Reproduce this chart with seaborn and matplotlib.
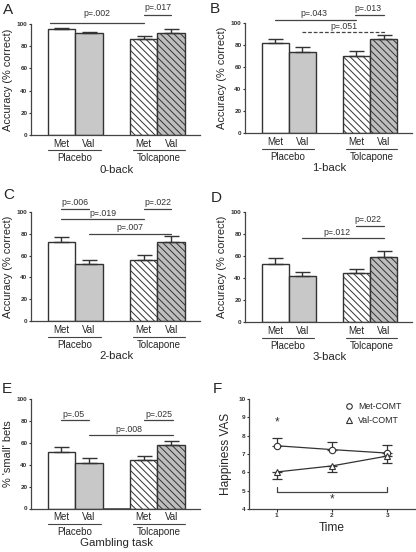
import numpy as np
import pandas as pd
import matplotlib
matplotlib.use("Agg")
import matplotlib.pyplot as plt
import seaborn as sns
from matplotlib import transforms
from matplotlib.lines import Line2D

# ---------------- data ----------------
gene_labels = ["Met", "Val", "Met", "Val"]
group_labels = ["Placebo", "Tolcapone"]
cond_keys = ["PM", "PV", "TM", "TV"]

acc_0back = [95.5, 92.1, 86.4, 92.4]
err_0back = [1.0, 1.2, 3.0, 3.0]
acc_1back = [82.4, 73.6, 70.6, 85.8]
err_1back = [3.4, 4.5, 4.5, 3.3]
acc_2back = [72.0, 52.3, 55.6, 72.0]
err_2back = [4.6, 3.3, 4.9, 5.8]
acc_3back = [52.7, 42.2, 44.3, 59.3]
err_3back = [5.1, 3.6, 4.2, 5.4]
small_bets = [51.1, 41.4, 43.8, 57.4]
err_small = [4.5, 4.2, 4.2, 4.2]

time_points = [1, 2, 3]
happy_met = [7.45, 7.24, 7.05]
err_met = [0.40, 0.40, 0.45]
happy_val = [6.02, 6.35, 6.89]
err_val = [0.40, 0.35, 0.36]

# significance annotations: (x0, x1, y_line, label, x_text, y_text, dashed)
annot_A = [(-0.4, 3.0, 101.4, "p=.002", 1.28, 109.5, False),
           (3.0, 4.0, 108.7, "p=.017", 3.53, 115.5, False)]
annot_B = [(0.0, 3.0, 103.0, "p=.043", 1.44, 108.8, False),
           (2.95, 4.0, 107.5, "p=.013", 3.44, 113.3, False),
           (1.0, 4.1, 91.8, "p=.051", 2.55, 97.2, True)]
annot_C = [(0.0, 1.0, 102.5, "p=.006", 0.5, 108.4, False),
           (3.0, 4.0, 102.5, "p=.022", 3.5, 108.4, False),
           (0.0, 3.0, 93.3, "p=.019", 1.53, 98.6, False),
           (1.0, 4.0, 80.0, "p=.007", 2.5, 85.6, False)]
annot_D = [(3.0, 4.0, 87.1, "p=.022", 3.43, 92.8, False),
           (1.0, 4.0, 76.0, "p=.012", 2.27, 81.4, False)]
annot_E = [(0.0, 1.0, 80.5, "p=.05", 0.45, 86.0, False),
           (3.0, 4.05, 80.5, "p=.025", 3.56, 86.0, False),
           (1.0, 4.05, 66.7, "p=.008", 2.47, 72.2, False)]

# ---------------- style ----------------
sns.set_style("ticks")
plt.rcParams["font.family"] = ["Liberation Sans", "DejaVu Sans"]
plt.rcParams["hatch.linewidth"] = 0.7
plt.rcParams["hatch.color"] = "#333333"
EDGE = "#333333"
LINE = "#444444"
W, H = 416, 552

fig = plt.figure(figsize=(W / 100, H / 100), dpi=100)


def add_ax(L, R, T, B):
    return fig.add_axes([L / W, 1 - B / H, (R - L) / W, (B - T) / H])


def below(ax, dy):
    return transforms.offset_copy(ax.get_xaxis_transform(), fig=fig, x=0, y=-dy, units="dots")


face = {0: "#ffffff", 1: "#c8c8c8", 3: "#ffffff", 4: "#bebebe"}


def bar_panel(ax, values, errors, ylabel, task, annots, gap_bar=False):
    order = ["PM", "PV", "gap", "TM", "TV"]
    df = pd.DataFrame({"cond": cond_keys, "value": values})
    if gap_bar:
        df = pd.concat([df, pd.DataFrame({"cond": ["gap"], "value": [0.0]})], ignore_index=True)
    sns.barplot(data=df, x="cond", y="value", order=order, color="white", width=1.0,
                errorbar=None, edgecolor=EDGE, linewidth=1.0, ax=ax)
    for p in ax.patches:
        c = int(round(p.get_x() + p.get_width() / 2))
        if c == 2:
            p.set_linewidth(1.8)
            continue
        p.set_facecolor(face[c])
        if c >= 3:
            p.set_hatch("\\" * 5)
    ax.errorbar([0, 1, 3, 4], values, yerr=[np.zeros(4), errors], fmt="none",
                ecolor=EDGE, elinewidth=1.0, capsize=5.4, capthick=1.0, zorder=3)
    ax.set_xlim(-1.11, 5.05)
    ax.set_ylim(0, 100)
    ax.set_yticks(range(0, 101, 20), labels=[str(v) for v in range(0, 101, 20)],
                  fontweight="bold", fontsize=4.6)
    ax.set_xticks([])
    ax.set_xlabel("")
    ax.set_ylabel(ylabel, fontsize=7.9, labelpad=2.5)
    ax.tick_params(axis="y", direction="out", length=1.8, width=0.8, pad=0.8, colors=EDGE)
    sns.despine(ax=ax)
    for s in ("left", "bottom"):
        ax.spines[s].set_color(LINE)
        ax.spines[s].set_linewidth(0.9)
    for x, lbl in zip([0, 1, 3, 4], gene_labels):
        ax.text(x, 0, lbl, transform=below(ax, 9), ha="center", va="center", fontsize=7)
    for (x0, x1), g in zip([(-0.5, 1.45), (2.6, 4.5)], group_labels):
        ax.plot([x0, x1], [0, 0], transform=below(ax, 15.5), color=LINE, lw=0.8, clip_on=False)
        ax.text((x0 + x1) / 2, 0, g, transform=below(ax, 23.5), ha="center", va="center", fontsize=7)
    ax.text(2, 0, task, transform=below(ax, 35), ha="center", va="center", fontsize=8.2)
    for x0, x1, yl, txt, xt, yt, dashed in annots:
        ax.plot([x0, x1], [yl, yl], color=LINE, lw=0.9, ls=(0, (3, 1.5)) if dashed else "-",
                clip_on=False)
        ax.text(xt, yt, txt, ha="center", va="center", fontsize=6.3, color=EDGE, clip_on=False)


axA = add_ax(31, 200, 24.3, 134.7)
axB = add_ax(245, 412, 23.3, 133.3)
axC = add_ax(31, 200, 211.7, 321.3)
axD = add_ax(245, 412, 211.7, 322.3)
axE = add_ax(31, 200, 398.7, 508.5)
axF = add_ax(249, 415, 399, 509)

bar_panel(axA, acc_0back, err_0back, "Accuracy (% correct)", "0-back", annot_A)
bar_panel(axB, acc_1back, err_1back, "Accuracy (% correct)", "1-back", annot_B)
bar_panel(axC, acc_2back, err_2back, "Accuracy (% correct)", "2-back", annot_C)
bar_panel(axD, acc_3back, err_3back, "Accuracy (% correct)", "3-back", annot_D)
bar_panel(axE, small_bets, err_small, "% 'small' bets", "Gambling task", annot_E, gap_bar=True)

# ---------------- panel F ----------------
ax = axF
df_f = pd.DataFrame({
    "time": time_points * 2,
    "vas": happy_met + happy_val,
    "geno": ["Met-COMT"] * 3 + ["Val-COMT"] * 3,
})
sns.lineplot(data=df_f, x="time", y="vas", style="geno",
             markers={"Met-COMT": "o", "Val-COMT": "^"}, dashes=False, color=EDGE,
             markerfacecolor="white", markeredgecolor=EDGE, markersize=4.6,
             markeredgewidth=0.8, linewidth=0.9, errorbar=None, legend=False, ax=ax, zorder=3)
ax.errorbar(time_points, happy_met, yerr=[[0, 0, 0], err_met], fmt="none", ecolor=EDGE,
            elinewidth=0.9, capsize=3.6, capthick=0.9, zorder=2)
ax.errorbar(time_points, happy_val, yerr=[err_val, [0, 0, 0]], fmt="none", ecolor=EDGE,
            elinewidth=0.9, capsize=3.6, capthick=0.9, zorder=2)
ax.set_xlim(0.5, 3.5)
ax.set_ylim(4, 10)
ax.set_yticks(range(4, 11), labels=[str(v) for v in range(4, 11)], fontweight="bold", fontsize=4.6)
ax.set_xticks([1, 2, 3], labels=["1", "2", "3"], fontweight="bold", fontsize=4.6)
ax.tick_params(direction="out", length=1.8, width=0.8, pad=0.8, colors=EDGE)
ax.set_xlabel("Time", fontsize=8.6, labelpad=3)
ax.set_ylabel("Happiness VAS", fontsize=8.6, labelpad=4.5)
sns.despine(ax=ax)
for s in ("left", "bottom"):
    ax.spines[s].set_color(LINE)
    ax.spines[s].set_linewidth(0.9)
ax.text(1, 8.73, "*", ha="center", va="center", fontsize=8.5, color=EDGE)
ax.plot([1, 1, 3, 3], [5.22, 4.95, 4.95, 5.22], color=LINE, lw=0.9)
ax.text(2, 4.5, "*", ha="center", va="center", fontsize=8.5, color=EDGE)
handles = [Line2D([], [], marker="o", ls="none", mfc="white", mec=EDGE, ms=4, mew=0.8),
           Line2D([], [], marker="^", ls="none", mfc="white", mec=EDGE, ms=4.4, mew=0.8)]
ax.legend(handles, ["Met-COMT", "Val-COMT"], loc="upper left", bbox_to_anchor=(0.54, 1.03),
          frameon=False, fontsize=6.3, handlelength=1.0, handletextpad=0.5,
          labelspacing=0.55, borderpad=0.2)

# ---------------- panel letters ----------------
for letter, (lx, ly) in zip("ABCDEF", [(3, 3), (210, 2), (3, 188), (211, 191), (2, 382), (213, 382)]):
    fig.text(lx / W, 1 - ly / H, letter, ha="left", va="top", fontsize=11)

fig.savefig("out.png", dpi=100, facecolor="white")
